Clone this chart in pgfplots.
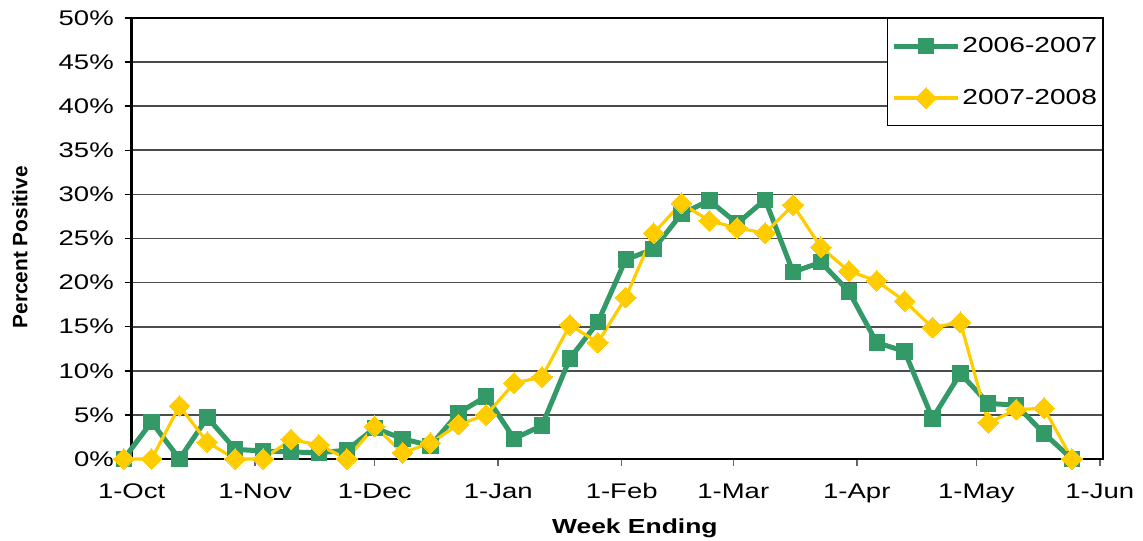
\documentclass[border=0pt]{standalone}
\usepackage{fontspec}
\setmainfont{Liberation Sans}[FakeStretch=1.3]
\newfontfamily\plainsans{Liberation Sans}
\usepackage{pgfplots}
\pgfplotsset{compat=1.18}
\definecolor{cgreen}{RGB}{51,153,102}
\definecolor{cyellow}{RGB}{255,204,0}
\begin{document}
\begin{tikzpicture}
\begin{axis}[
  name=ax, at={(0,0)}, anchor=south west,
  scale only axis, width=582.8pt, height=264.6pt,
  xmin=0, xmax=243.8, ymin=0, ymax=50,
  clip=false,
  axis line style={line width=1.5pt, black},
  xtick={0,31,61,92,123,151,182,212,243},
  xticklabels={1-Oct,1-Nov,1-Dec,1-Jan,1-Feb,1-Mar,1-Apr,1-May,1-Jun},
  ytick={0,5,...,50},
  yticklabels={0\%,5\%,10\%,15\%,20\%,25\%,30\%,35\%,40\%,45\%,50\%},
  xtick pos=bottom, ytick pos=left,
  tick align=outside, major tick length=4.2pt,
  xtick style={gray!80!black, line width=0.9pt},
  ytick style={black, line width=0.9pt},
  ymajorgrids, major grid style={gray!60!black, line width=1pt},
  tick label style={font=\fontsize{12.7}{15}\selectfont},
  xticklabel style={yshift=-7pt},
  yticklabel style={xshift=-3pt},
  xlabel={\bfseries Week Ending},
  xlabel style={at={(axis description cs:0.518,-0.1565)}, anchor=center, font=\fontsize{12.2}{14}\selectfont},
  ylabel={\plainsans\bfseries Percent Positive},
  ylabel style={at={(axis description cs:-0.115,0.48)}, anchor=center, font=\fontsize{12.5}{14}\selectfont},
  legend style={at={(1,1)}, anchor=north east, draw=black, line width=0.7pt, fill=white,
    font=\fontsize{13}{15}\selectfont, row sep=18.5pt, inner xsep=2.2pt, inner ysep=10.3pt,
    nodes={inner sep=1pt}},
  legend cell align=left,
  legend image code/.code={\draw[mark repeat=2,mark phase=2] plot coordinates {(6.5pt,0pt) (25.8pt,0pt) (45.1pt,0pt)};},
]
\addplot[color=cgreen, line width=3pt, mark=square*, mark size=4.6pt, mark options={fill=cgreen, draw=cgreen, line width=0pt}] coordinates {
(-2,0) (5,4.2) (12,0) (19,4.7) (26,1.1) (33,0.9) (40,0.8) (47,0.7) (54,1.0)
(61,3.5) (68,2.3) (75,1.5) (82,5.2) (89,7.1) (96,2.3) (103,3.8) (110,11.4)
(117,15.5) (124,22.6) (131,23.8) (138,27.8) (145,29.3) (152,26.7) (159,29.4)
(166,21.2) (173,22.3) (180,19.0) (187,13.2) (194,12.2) (201,4.6) (208,9.7)
(215,6.3) (222,6.1) (229,2.9) (236,0)
};
\addlegendentry{2006-2007}
\addplot[color=cyellow, line width=1.9pt, mark=square*, mark size=4.4pt, mark options={rotate=45, fill=cyellow, draw=cyellow, line width=0pt}] coordinates {
(-2,0) (5,0) (12,6.0) (19,1.9) (26,0) (33,0) (40,2.2) (47,1.6) (54,0)
(61,3.7) (68,0.7) (75,1.8) (82,3.9) (89,5.0) (96,8.6) (103,9.3) (110,15.2)
(117,13.2) (124,18.3) (131,25.6) (138,29.0) (145,27.0) (152,26.2) (159,25.6)
(166,28.8) (173,24.0) (180,21.3) (187,20.2) (194,17.9) (201,14.9) (208,15.5)
(215,4.1) (222,5.6) (229,5.75) (236,0)
};
\addlegendentry{2007-2008}
\end{axis}
\pgfresetboundingbox
\path[use as bounding box] ([shift={(-79pt,-49.2pt)}]ax.south west) rectangle ([shift={(24pt,10.8pt)}]ax.north east);
\end{tikzpicture}
\end{document}
